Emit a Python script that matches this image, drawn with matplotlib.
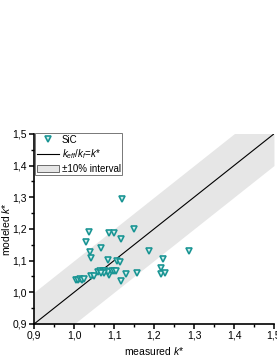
import numpy as np
import matplotlib
matplotlib.use("Agg")
import matplotlib.pyplot as plt
from matplotlib.ticker import MultipleLocator, FuncFormatter
from matplotlib.patches import Patch
from matplotlib.lines import Line2D

plt.rcParams['font.family'] = ['Liberation Sans', 'DejaVu Sans']
plt.rcParams['mathtext.fontset'] = 'custom'
plt.rcParams['mathtext.it'] = 'Liberation Sans:italic'
plt.rcParams['mathtext.rm'] = 'Liberation Sans'

# valores (SiC)
medido = [1.119, 1.038, 1.088, 1.099, 1.150, 1.029, 1.118, 1.039, 1.068, 1.042,
          1.084, 1.108, 1.114, 1.188, 1.223, 1.288, 1.218, 1.218, 1.228, 1.158,
          1.129, 1.118, 1.088, 1.005, 1.010, 1.015, 1.020, 1.025, 1.043, 1.050,
          1.060, 1.066, 1.072, 1.078, 1.086, 1.094, 1.100, 1.106, 1.076, 1.068]
modelado = [1.294, 1.189, 1.188, 1.187, 1.199, 1.159, 1.168, 1.128, 1.139, 1.109,
            1.101, 1.098, 1.097, 1.130, 1.104, 1.130, 1.077, 1.057, 1.060, 1.060,
            1.059, 1.037, 1.056, 1.040, 1.040, 1.041, 1.040, 1.042, 1.050, 1.052,
            1.063, 1.066, 1.067, 1.066, 1.065, 1.068, 1.067, 1.066, 1.060, 1.062]

LIM = (0.9, 1.5)
BANDA = 0.1
TEAL = '#1a9594'

fig = plt.figure(figsize=(2.77, 3.58), dpi=100)
ax = fig.add_axes([0.123, 0.095, 0.866, 0.531])

xx = np.array(LIM)
ax.fill_between(xx, xx - BANDA, xx + BANDA, color='#e6e6e6', lw=0, zorder=1)
ax.plot(xx, xx, color='black', lw=0.8, zorder=2)
ax.plot(medido, modelado, ls='none', marker='v', ms=4.3, mfc='#d8f0ee',
        mec=TEAL, mew=1.2, zorder=3)

ax.set_xlim(LIM)
ax.set_ylim(LIM)
for s in ['top', 'right']:
    ax.spines[s].set_visible(False)
for s in ['left', 'bottom']:
    ax.spines[s].set_linewidth(1.2)

virgula = FuncFormatter(lambda v, p: f"{v:.1f}".replace('.', ','))
ax.xaxis.set_major_locator(MultipleLocator(0.1))
ax.yaxis.set_major_locator(MultipleLocator(0.1))
ax.xaxis.set_minor_locator(MultipleLocator(0.05))
ax.yaxis.set_minor_locator(MultipleLocator(0.05))
ax.xaxis.set_major_formatter(virgula)
ax.yaxis.set_major_formatter(virgula)
ax.tick_params(which='major', direction='out', length=3.5, width=1.1, labelsize=7.5, pad=1.5)
ax.tick_params(which='minor', direction='out', length=2, width=1.0)

ax.set_xlabel('measured $k$*', fontsize=7.5, labelpad=3)
ax.set_ylabel('modeled $k$*', fontsize=7.5, labelpad=0.5)

handles = [
    Line2D([], [], ls='none', marker='v', ms=4.3, mfc='#d8f0ee', mec=TEAL, mew=1.2),
    Line2D([], [], color='black', lw=0.8),
    Patch(facecolor='#e6e6e6', edgecolor='#555555', lw=0.6),
]
labels = ['SiC', r'$k_{eff}/k_f$=$k$*', '±10% interval']
leg = ax.legend(handles, labels, loc='upper left', bbox_to_anchor=(0.005, 1.005),
                fontsize=7, frameon=True, fancybox=False, borderpad=0.2,
                labelspacing=0.25, handlelength=2.2, handletextpad=0.3,
                borderaxespad=0.0)
leg.get_frame().set_edgecolor('#555555')
leg.get_frame().set_linewidth(0.7)

fig.savefig('out.png', dpi=100)
